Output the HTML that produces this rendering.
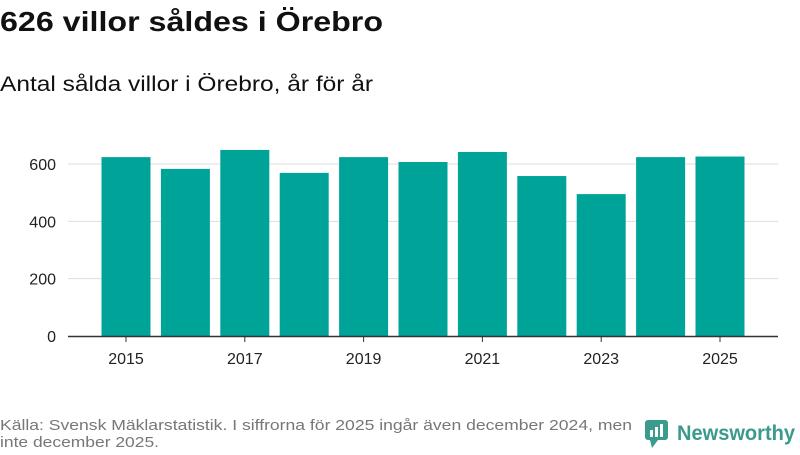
<!DOCTYPE html>
<html><head><meta charset="utf-8"><style>
body{margin:0;width:800px;height:450px;background:#fff;font-family:"Liberation Sans","DejaVu Sans",sans-serif;overflow:hidden}
</style></head><body>
<svg width="800" height="450">
<text x="0" y="31" font-size="28" font-weight="bold" fill="#111" textLength="383" lengthAdjust="spacingAndGlyphs">626 villor såldes i Örebro</text>
<text x="0" y="91" font-size="21" fill="#111" textLength="373" lengthAdjust="spacingAndGlyphs">Antal sålda villor i Örebro, år för år</text>
<g id="grid"></g><g id="bars"></g><g id="axes"></g>
<text x="0" y="430" font-size="15" fill="#777" textLength="632" lengthAdjust="spacingAndGlyphs">Källa: Svensk Mäklarstatistik. I siffrorna för 2025 ingår även december 2024, men</text>
<text x="0" y="447" font-size="15" fill="#777" textLength="159" lengthAdjust="spacingAndGlyphs">inte december 2025.</text>
<g>
<rect x="645" y="420" width="23" height="20" rx="3" fill="#3a9a8c"/>
<polygon points="650,440 658,440 652,448" fill="#3a9a8c"/>
<rect x="650" y="430" width="3" height="7" fill="#fff"/><rect x="655" y="427" width="3" height="10" fill="#fff"/><rect x="660" y="424" width="3" height="13" fill="#fff"/>
<text x="677" y="440" font-size="21" font-weight="bold" fill="#3a9a8c" textLength="118" lengthAdjust="spacingAndGlyphs">Newsworthy</text>
</g>
</svg>
<script>
const years=[2015,2016,2017,2018,2019,2020,2021,2022,2023,2024,2025];
const values=[624,583,649,569,624,607,642,558,495,624,626];
const yTicks=[0,200,400,600];
const xTickYears=[2015,2017,2019,2021,2023,2025];
const NS="http://www.w3.org/2000/svg";
const y0=336,pxPer=172/600,x0=126,step=59.4,bw=49;
const ys=v=>y0-v*pxPer, xs=i=>x0+i*step;
function mk(t,a,p){const e=document.createElementNS(NS,t);for(const k in a)e.setAttribute(k,a[k]);p.appendChild(e);return e;}
const g=document.getElementById('grid'),b=document.getElementById('bars'),ax=document.getElementById('axes');
yTicks.forEach(v=>{
 if(v>0){const l=mk('line',{x1:68,x2:778,y1:ys(v),y2:ys(v),stroke:'#ddd','stroke-width':1},g);
 
 }
 const t=mk('text',{x:56,y:ys(v)+6,'font-size':16,fill:'#222','text-anchor':'end'},ax);t.textContent=v;
 
 
});
values.forEach((v,i)=>{
 const r=mk('rect',{x:xs(i)-bw/2,y:ys(v),width:bw,height:y0-ys(v),fill:'#00a398'},b);
 
 
});
const al=mk('line',{x1:68,x2:778,y1:y0+0.5,y2:y0+0.5,stroke:'#333','stroke-width':1.5},ax);


xTickYears.forEach(yr=>{
 const i=years.indexOf(yr);
 const tk=mk('line',{x1:xs(i),x2:xs(i),y1:y0,y2:y0+6,stroke:'#333'},ax);
 
 
 const t=mk('text',{x:xs(i),y:364,'font-size':16,fill:'#222','text-anchor':'middle'},ax);t.textContent=yr;
 
 
});
</script>
</body></html>
